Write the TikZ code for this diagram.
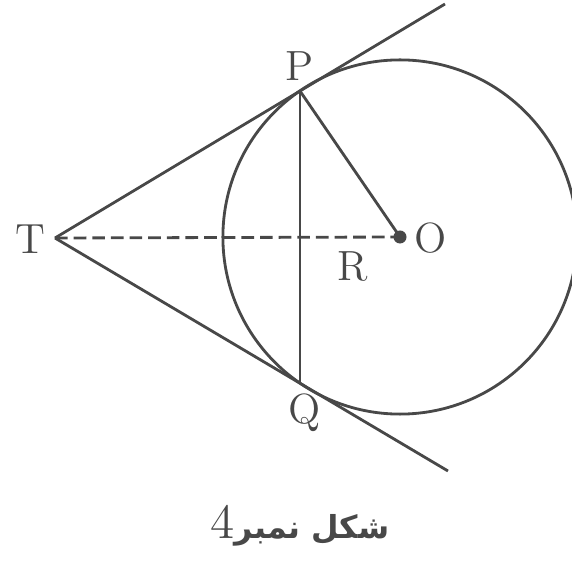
\documentclass[tikz,border=0pt]{standalone}
\usepackage{fontspec}
\newfontfamily\urdufont[Script=Arabic]{DejaVu Sans}
\TeXXeTstate=1
\definecolor{inkgray}{RGB}{72,72,72}
\usetikzlibrary{calc}

\begin{document}
\begin{tikzpicture}[x=0.01cm,y=-0.01cm,
    line width=0.8pt,
    lbl/.style={font=\fontsize{12}{14}\selectfont,text=inkgray,inner sep=0pt}]
  \useasboundingbox (0,0) rectangle (572,570);
  % points of the figure (pixel grid)
  \coordinate (T) at (55,238);
  \coordinate (O) at (400,237);
  \coordinate (P) at (300,91);
  \coordinate (Q) at (300,383);
  \coordinate (Pend) at (445,4);
  \coordinate (Qend) at (448,471);
  \draw[inkgray] (O) circle[radius=1.77cm];
  \draw[inkgray] (T) -- (Pend);
  \draw[inkgray] (T) -- (Qend);
  \draw[inkgray] (P) -- (Q);
  \draw[inkgray] (P) -- (O);
  \draw[inkgray,dash pattern=on 3.6pt off 1.7pt] (T) -- (O);
  \fill[inkgray] (O) circle[radius=0.065cm];
  \node[lbl] (tT) at (30,239) {T};
  \node[lbl] (tP) at (300,66) {P};
  \node[lbl] (tQ) at (305,413) {Q};
  \node[lbl] (tO) at (431,238) {O};
  \node[lbl] (tR) at (353,267) {R};
  % caption, right to left
  \node[font=\fontsize{14}{16}\selectfont,text=inkgray] (cap) at (300,526)
    {\beginR{\urdufont\fontsize{9}{11}\selectfont\bfseries شکل نمبر}4\endR};
\end{tikzpicture}
\end{document}
